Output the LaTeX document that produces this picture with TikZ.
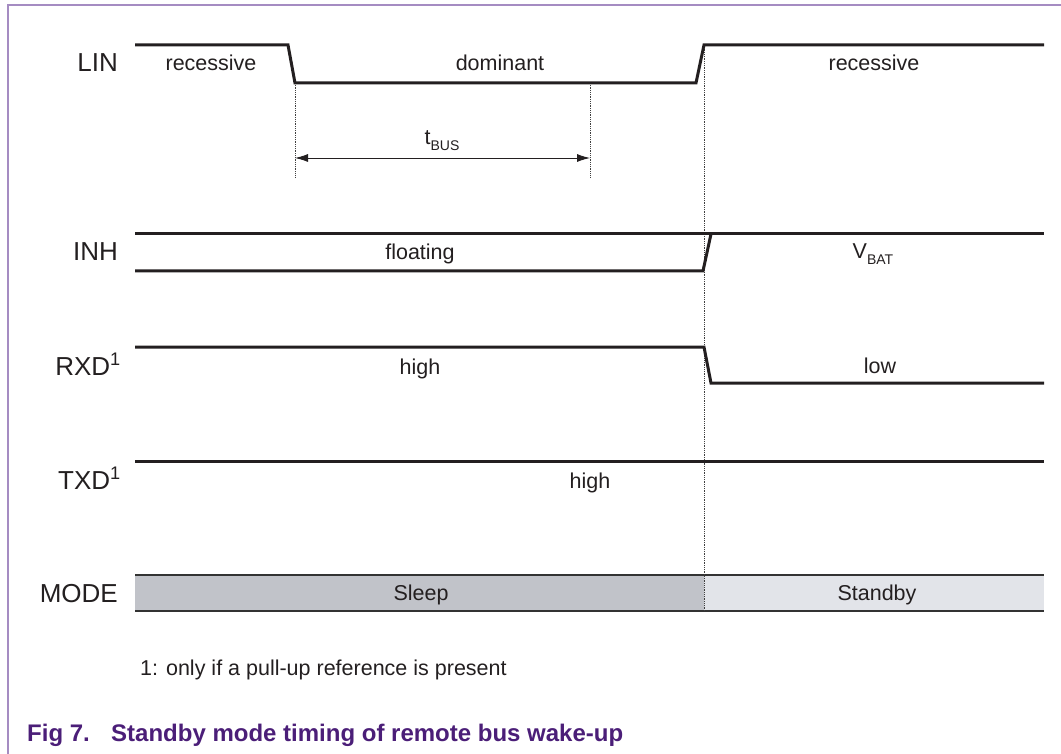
\documentclass[tikz,border=0pt]{standalone}
\usepackage{fontspec}
\setmainfont{Liberation Sans}
\usetikzlibrary{arrows.meta}
\definecolor{nxppurple}{HTML}{4B1E78}
\definecolor{framepurple}{HTML}{A58CC2}
\definecolor{sleepgray}{HTML}{C1C3C9}
\definecolor{standbygray}{HTML}{E2E4E9}
\definecolor{inkblack}{HTML}{231F20}
\newcommand{\subtxt}[1]{\raisebox{-0.45ex}{\fontsize{14}{14}\selectfont #1}}
\begin{document}
\begin{tikzpicture}[x=1pt,y=-1pt,
  wave/.style={line width=3pt, color=inkblack, line join=miter},
  guide/.style={line width=0.8pt, densely dotted, color=black!75},
  modeline/.style={line width=2pt, color=black!80},
  siglabel/.style={anchor=base east, font=\fontsize{26}{30}\selectfont, text=inkblack, inner sep=0pt},
  statetext/.style={anchor=base, font=\fontsize{21.5}{25}\selectfont, text=inkblack, inner sep=0pt},
  dimarrow/.style={line width=0.9pt, color=inkblack, {Latex[length=13pt,width=8pt]}-{Latex[length=13pt,width=8pt]}}
]
\useasboundingbox (0,0) rectangle (1061,754);
% frame
\draw[framepurple, line width=1.5pt] (1061,5) -- (8,5) -- (8,754);

% MODE bar fills
\fill[sleepgray] (135,575) rectangle (704,611);
\fill[standbygray] (704,575) rectangle (1044,611);
\draw[modeline] (135,575) -- (1044,575);
\draw[modeline] (135,611) -- (1044,611);

% guides
\coordinate (g1top) at (295,83);
\coordinate (g1bot) at (295,177);
\coordinate (g2top) at (590,83);
\coordinate (g2bot) at (590,177);
\coordinate (g3top) at (704,45);
\coordinate (g3bot) at (704,611);
\draw[guide] (g1top) -- (g1bot);
\draw[guide] (g2top) -- (g2bot);
\draw[guide] (g3top) -- (g3bot);

% t_BUS arrow
\coordinate (a1) at (295,158);
\coordinate (a2) at (590,158);
\draw[dimarrow] (a1) -- (a2);
\node[statetext] (tbus) at (442,145) {t\subtxt{BUS}};

% LIN
\draw[wave] (135,45) -- (288,45) -- (295,83) -- (696,83) -- (704,45) -- (1044,45);
\node[siglabel] (lin) at (118,72) {LIN};
\node[statetext] (linrec1) at (211,71) {recessive};
\node[statetext] (lindom) at (500,71) {dominant};
\node[statetext] (linrec2) at (874,71) {recessive};

% INH
\draw[wave] (135,234) -- (1044,234);
\draw[wave] (135,271) -- (703,271) -- (711,234);
\node[siglabel] (inh) at (118,261) {INH};
\node[statetext] (inhfloat) at (420,260) {floating};
\node[statetext] (inhvbat) at (873,259) {V\subtxt{BAT}};

% RXD
\draw[wave] (135,347) -- (704,347) -- (711,383) -- (1044,383);
\node[siglabel] (rxd) at (121,375) {RXD\textsuperscript{1}};
\node[statetext] (rxdhigh) at (420,374) {high};
\node[statetext] (rxdlow) at (880,373) {low};

% TXD
\draw[wave] (135,461) -- (1044,461);
\node[siglabel] (txd) at (121,489) {TXD\textsuperscript{1}};
\node[statetext] (txdhigh) at (590,488) {high};

% MODE
\node[siglabel] (mode) at (118,602) {MODE};
\node[statetext] (sleep) at (421,600) {Sleep};
\node[statetext] (standby) at (877,600) {Standby};

% footnote
\node[statetext, anchor=base west] (foot) at (140,675) {1: only if a pull-up reference is present};

% caption
\node[anchor=base west, inner sep=0pt, text=nxppurple, font=\fontsize{24}{28}\selectfont\bfseries] (capnum) at (27,741) {Fig 7.};
\node[anchor=base west, inner sep=0pt, text=nxppurple, font=\fontsize{24}{28}\selectfont\bfseries] (captext) at (111,741) {Standby mode timing of remote bus wake-up};
\end{tikzpicture}
\end{document}
